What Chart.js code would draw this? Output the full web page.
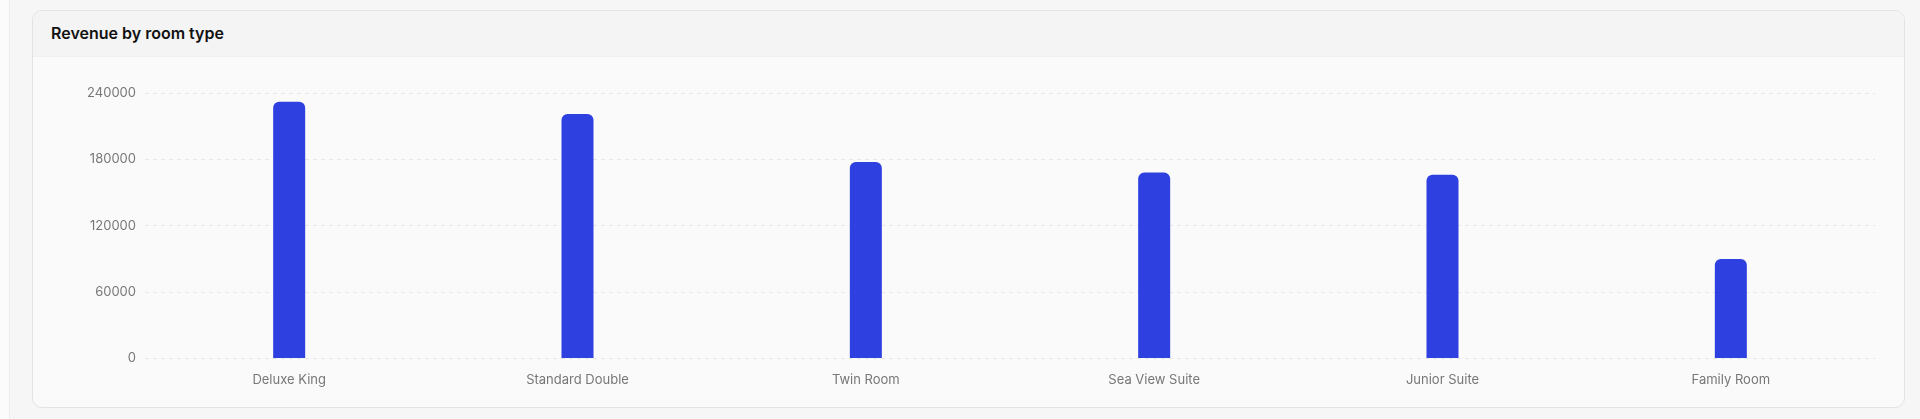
<!DOCTYPE html>
<html>
<head>
<meta charset="utf-8">
<script src="https://cdn.jsdelivr.net/npm/chart.js@4"></script>
<style>
  html, body { margin: 0; padding: 0; }
  body { width: 1920px; height: 419px; background: #f6f6f6; position: relative; overflow: hidden; font-family: Inter, "Noto Sans", sans-serif; }
  .side { position: absolute; left: 0; top: 0; width: 9px; height: 419px; background: #fbfbfb; border-right: 1px solid #ebebeb; }
  .card { position: absolute; left: 32px; top: 10px; width: 1871px; height: 396px; background: #fafafa; border: 1px solid #e3e3e3; border-radius: 10px; overflow: hidden; }
  .card-head { height: 46px; background: #f4f4f4; border-bottom: 1px solid #efefef; box-sizing: border-box; padding-left: 18px; line-height: 45px; font-size: 16px; font-weight: 600; color: #111; }
  .chart-box { position: absolute; left: 0; top: 46px; width: 1871px; height: 350px; }
</style>
</head>
<body>
<div class="side"></div>
<div class="card">
  <div class="card-head">Revenue by room type</div>
  <div class="chart-box"><canvas id="revChart"></canvas></div>
</div>
<script>
var roomTypes = ["Deluxe King", "Standard Double", "Twin Room", "Sea View Suite", "Junior Suite", "Family Room"];
var revenue = [232000, 221000, 177500, 168000, 166000, 90000];
var yTicks = [0, 60000, 120000, 180000, 240000];

new Chart("revChart", {
  type: "bar",
  data: {
    labels: roomTypes,
    datasets: [{
      data: revenue,
      backgroundColor: "#2e40e0",
      borderRadius: 6,
      maxBarThickness: 32
    }]
  },
  options: {
    responsive: true,
    maintainAspectRatio: false,
    animation: false,
    layout: { padding: { left: 20, right: 29, top: 36, bottom: 5 } },
    plugins: {
      legend: { display: false },
      tooltip: { enabled: false }
    },
    scales: {
      x: {
        grid: { display: false, drawTicks: false },
        border: { display: false },
        ticks: { color: "#777", padding: 14, font: { family: "Inter", size: 13 } }
      },
      y: {
        min: 0,
        max: yTicks[yTicks.length - 1],
        afterBuildTicks: function(scale) {
          scale.ticks = yTicks.map(function(v) { return { value: v }; });
        },
        afterFit: function(scale) { scale.width = 92; },
        grid: { color: "#e6e6e6", drawTicks: false },
        border: { display: false, dash: [4, 4] },
        ticks: {
          color: "#777",
          padding: 9,
          font: { family: "Inter", size: 13 },
          callback: function(v) { return String(v); }
        }
      }
    }
  }
});
</script>
</body>
</html>
